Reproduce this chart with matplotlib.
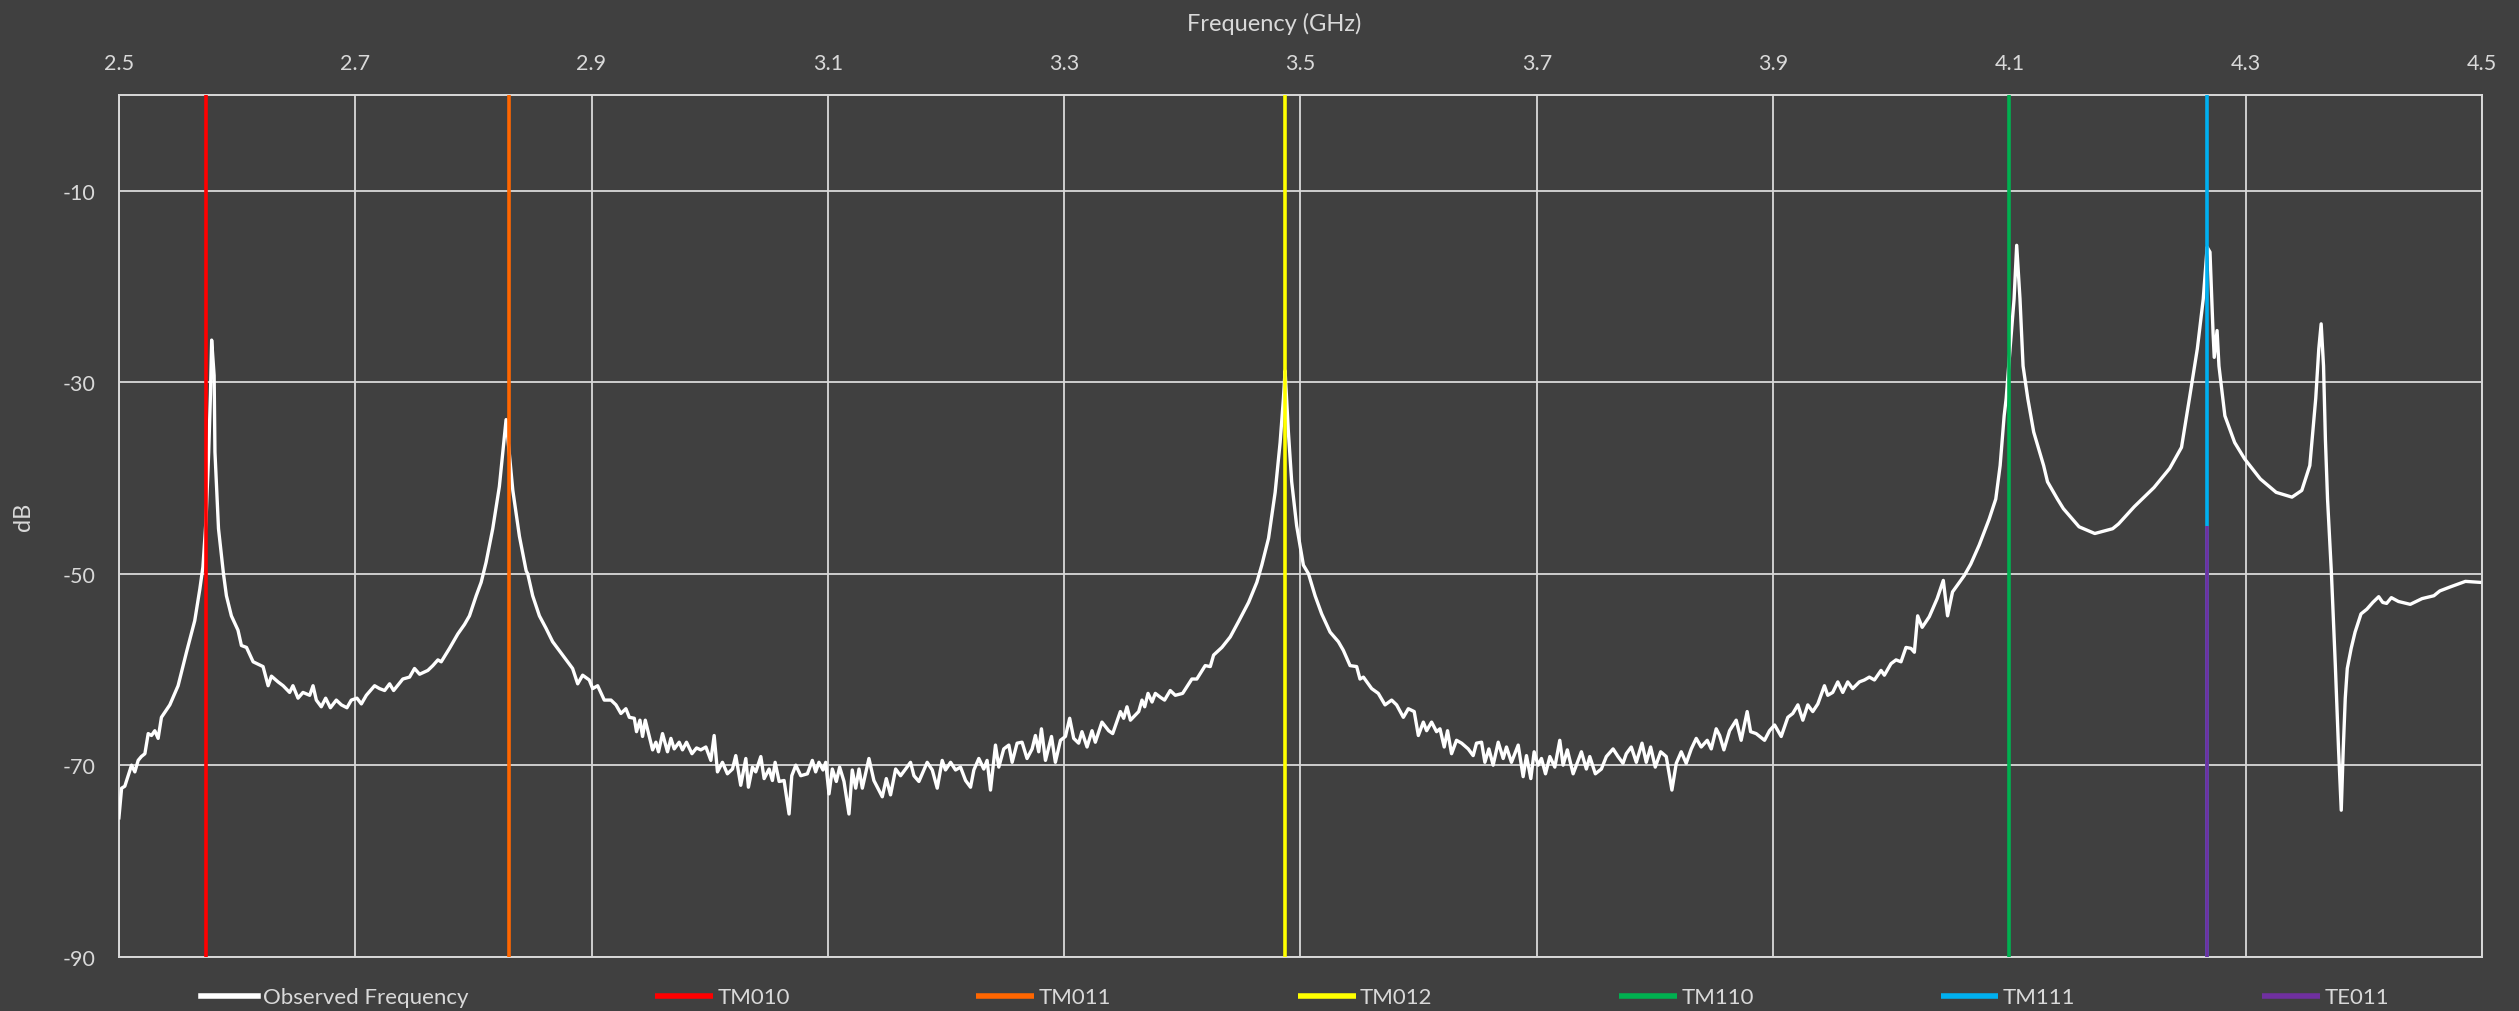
import matplotlib
matplotlib.use("Agg")
import matplotlib.pyplot as plt
import numpy as np

# measured trace (GHz, dB)
freq = [2.500, 2.5023, 2.505, 2.5107, 2.5135, 2.5163, 2.519, 2.522, 2.5248, 2.5276,
        2.5304, 2.5332, 2.536, 2.5431, 2.5501, 2.5572, 2.5642, 2.5685, 2.5711, 2.5737,
        2.576, 2.5775, 2.5785, 2.5806, 2.5813, 2.5843, 2.5885, 2.591, 2.5952, 2.6008,
        2.6037, 2.608, 2.6136, 2.622, 2.6263, 2.6291, 2.6347, 2.639, 2.6445, 2.6473,
        2.6516, 2.6558, 2.6615, 2.6643, 2.6671, 2.6713, 2.675, 2.679, 2.684, 2.6883,
        2.693, 2.6967, 2.7015, 2.7052, 2.7094, 2.7164, 2.7206, 2.7249, 2.7291, 2.7325,
        2.7403, 2.746, 2.7502, 2.7545, 2.7615, 2.7657, 2.77, 2.7728, 2.7798, 2.7868,
        2.7925, 2.7967, 2.8024, 2.8066, 2.8108, 2.8164, 2.822, 2.8277, 2.8334, 2.839,
        2.8447, 2.846, 2.8502, 2.8559, 2.8615, 2.8671, 2.8756, 2.884, 2.8883, 2.8925,
        2.8981, 2.901, 2.9052, 2.9108, 2.9165, 2.9207, 2.9249, 2.9291, 2.932, 2.9362,
        2.9381, 2.941, 2.9432, 2.9455, 2.9517, 2.9545, 2.9567, 2.9601, 2.9643, 2.9672,
        2.97, 2.9742, 2.977, 2.9804, 2.985, 2.9889, 2.9925, 2.9968, 3.001, 3.0038,
        3.0066, 3.0108, 3.015, 3.0193, 3.0221, 3.0263, 3.0306, 3.0328, 3.0362, 3.039,
        3.0433, 3.0461, 3.0503, 3.0531, 3.0554, 3.0588, 3.063, 3.0672, 3.0695, 3.0729,
        3.0771, 3.0827, 3.0869, 3.0897, 3.0925, 3.0959, 3.0982, 3.101, 3.1038, 3.1072,
        3.11, 3.1137, 3.1179, 3.1207, 3.1236, 3.1264, 3.1292, 3.1348, 3.139, 3.1461,
        3.1495, 3.1531, 3.1574, 3.1616, 3.1658, 3.17, 3.1729, 3.1771, 3.1841, 3.1884,
        3.1926, 3.1968, 3.1996, 3.2039, 3.2081, 3.2123, 3.2166, 3.2208, 3.2236, 3.2278,
        3.232, 3.2348, 3.2377, 3.2419, 3.2447, 3.2489, 3.2532, 3.256, 3.2602, 3.2644,
        3.2686, 3.2729, 3.2757, 3.2785, 3.2808, 3.2842, 3.2893, 3.2926, 3.2969, 3.3011,
        3.3047, 3.3081, 3.3123, 3.3151, 3.3194, 3.3236, 3.3264, 3.332, 3.3377, 3.3411,
        3.3476, 3.3504, 3.3532, 3.3561, 3.3631, 3.3659, 3.3682, 3.371, 3.3744, 3.3772,
        3.3814, 3.385, 3.3898, 3.3941, 3.4003, 3.4081, 3.4123, 3.4194, 3.4237, 3.4265,
        3.4335, 3.4406, 3.4476, 3.4561, 3.4631, 3.4673, 3.473, 3.4786, 3.4828, 3.4856,
        3.487, 3.4898, 3.4926, 3.4968, 3.5025, 3.5068, 3.5124, 3.518, 3.5251, 3.5321,
        3.5363, 3.542, 3.5476, 3.5504, 3.5533, 3.5603, 3.5659, 3.5716, 3.5772, 3.5814,
        3.5871, 3.5913, 3.5963, 3.5998, 3.604, 3.6068, 3.611, 3.6152, 3.6181, 3.6217,
        3.6245, 3.6279, 3.6321, 3.6364, 3.642, 3.6462, 3.649, 3.6533, 3.6561, 3.6595,
        3.6631, 3.6674, 3.6716, 3.6744, 3.6786, 3.6843, 3.6885, 3.6913, 3.695, 3.6978,
        3.7012, 3.704, 3.7074, 3.7111, 3.7153, 3.7195, 3.7223, 3.7259, 3.7308, 3.7378,
        3.742, 3.7449, 3.7496, 3.7547, 3.7589, 3.7646, 3.7688, 3.773, 3.7758, 3.78,
        3.7843, 3.7891, 3.7927, 3.7964, 3.8003, 3.8049, 3.8096, 3.8144, 3.8181, 3.8223,
        3.8265, 3.8308, 3.835, 3.8392, 3.8443, 3.8477, 3.8519, 3.8548, 3.8584, 3.8632,
        3.8688, 3.873, 3.8781, 3.881, 3.8857, 3.8928, 3.897, 3.9013, 3.9069, 3.9125,
        3.9167, 3.921, 3.9252, 3.9294, 3.9336, 3.9379, 3.9435, 3.9463, 3.9505, 3.9548,
        3.959, 3.9632, 3.9674, 3.9731, 3.9773, 3.9815, 3.9858, 3.9914, 3.9942, 3.9998,
        4.0041, 4.0083, 4.0125, 4.0167, 4.0196, 4.0224, 4.0262, 4.0322, 4.0389, 4.0441,
        4.0477, 4.0519, 4.0618, 4.0673, 4.0745, 4.0829, 4.0885, 4.0922, 4.0956, 4.0973,
        4.1006, 4.104, 4.1062, 4.109, 4.1116, 4.1156, 4.1206, 4.129, 4.1323, 4.1407,
        4.1457, 4.159, 4.1723, 4.1874, 4.1924, 4.2057, 4.2124, 4.2224, 4.2357, 4.2457,
        4.2524, 4.2591, 4.2641, 4.2674, 4.2698, 4.2724, 4.2734, 4.2758, 4.2774, 4.2824,
        4.2907, 4.2991, 4.3124, 4.3258, 4.3392, 4.3475, 4.3543, 4.3593, 4.3619, 4.3639,
        4.3659, 4.3675, 4.3693, 4.3726, 4.3759, 4.3786, 4.3809, 4.3826, 4.3843, 4.386,
        4.3893, 4.3926, 4.3976, 4.4026, 4.4076, 4.4126, 4.416, 4.4193, 4.4233, 4.4293,
        4.4393, 4.4493, 4.4593, 4.4643, 4.4727, 4.4793, 4.486, 4.498]

db = [-75.5, -72.4, -72.2, -70.0, -70.7, -69.5, -69.1, -68.8, -66.7, -66.9,
      -66.4, -67.2, -65.0, -63.7, -61.7, -58.2, -54.9, -51.6, -49.3, -44.5,
      -37.3, -31.3, -25.6, -29.3, -37.3, -45.3, -50.0, -52.3, -54.4, -55.9,
      -57.5, -57.7, -59.2, -59.7, -61.7, -60.7, -61.3, -61.7, -62.4, -61.7,
      -63.0, -62.4, -62.7, -61.7, -63.2, -63.9, -63.0, -64.0, -63.2, -63.7,
      -64.0, -63.2, -63.0, -63.6, -62.7, -61.7, -62.0, -62.2, -61.5, -62.2,
      -61.0, -60.8, -59.9, -60.5, -60.1, -59.6, -59.0, -59.2, -57.8, -56.3,
      -55.3, -54.4, -52.3, -50.9, -48.8, -45.3, -40.9, -33.9, -41.3, -46.1,
      -49.7, -50.0, -52.3, -54.4, -55.7, -57.1, -58.5, -59.9, -61.5, -60.6,
      -61.1, -62.0, -61.7, -63.2, -63.2, -63.7, -64.6, -64.1, -65.0, -65.1,
      -66.5, -65.3, -67.0, -65.3, -68.4, -67.6, -68.6, -66.7, -68.6, -67.2,
      -68.3, -67.6, -68.4, -67.6, -68.8, -68.2, -68.4, -68.1, -69.5, -66.9,
      -70.7, -69.7, -70.9, -70.4, -69.0, -72.1, -69.3, -72.3, -70.2, -70.7,
      -69.1, -71.4, -70.4, -71.6, -69.7, -71.7, -71.6, -75.1, -71.1, -70.0,
      -71.1, -70.9, -69.5, -70.7, -69.7, -70.5, -69.7, -73.0, -70.4, -71.7,
      -70.2, -71.7, -75.1, -70.5, -72.4, -70.4, -72.4, -69.3, -71.6, -73.3,
      -71.4, -73.1, -70.4, -71.1, -70.4, -69.7, -71.1, -71.7, -69.7, -70.5,
      -72.4, -69.5, -70.5, -69.7, -70.5, -70.2, -71.6, -72.3, -70.5, -69.3,
      -70.4, -69.5, -72.6, -67.9, -70.2, -68.3, -67.9, -69.7, -67.7, -67.6,
      -69.3, -68.3, -66.9, -68.6, -66.2, -69.5, -67.0, -69.7, -67.4, -67.0,
      -65.1, -67.2, -67.7, -66.5, -68.1, -66.4, -67.6, -65.5, -66.4, -66.7,
      -64.4, -65.1, -63.9, -65.3, -64.4, -63.2, -63.9, -62.5, -63.4, -62.5,
      -62.9, -63.2, -62.2, -62.7, -62.5, -61.0, -61.0, -59.6, -59.7, -58.5,
      -57.7, -56.6, -55.0, -53.0, -50.9, -49.1, -46.3, -41.5, -36.3, -31.7,
      -28.8, -35.2, -40.4, -45.0, -49.1, -50.0, -52.3, -54.2, -56.1, -57.1,
      -58.0, -59.6, -59.7, -61.0, -60.8, -62.0, -62.5, -63.7, -63.2, -63.7,
      -65.0, -64.1, -64.4, -66.9, -65.5, -66.4, -65.5, -66.5, -66.2, -68.1,
      -66.4, -68.8, -67.4, -67.7, -68.3, -69.0, -67.7, -67.6, -69.7, -68.3,
      -70.0, -67.6, -69.3, -68.1, -69.7, -67.9, -71.2, -69.0, -71.4, -68.6,
      -70.0, -69.3, -70.9, -69.1, -70.2, -67.4, -70.0, -68.4, -70.9, -68.6,
      -70.4, -69.1, -70.9, -70.4, -69.1, -68.3, -69.1, -69.8, -68.8, -68.1,
      -69.7, -67.7, -69.7, -68.1, -70.2, -68.6, -69.1, -72.6, -69.8, -68.6,
      -69.8, -68.3, -67.2, -68.1, -67.4, -68.3, -66.2, -66.9, -68.4, -66.4,
      -65.3, -67.4, -64.4, -66.5, -66.7, -67.4, -66.4, -65.8, -67.0, -65.0,
      -64.6, -63.7, -65.3, -63.7, -64.4, -63.6, -61.7, -62.7, -62.4, -61.3,
      -62.4, -61.3, -62.0, -61.3, -61.1, -60.8, -61.1, -60.1, -60.6, -59.4,
      -59.0, -59.2, -57.7, -57.8, -58.2, -54.4, -55.6, -54.5, -52.6, -50.7,
      -54.4, -51.9, -50.2, -49.0, -47.0, -44.3, -42.2, -38.7, -33.5, -31.7,
      -26.5, -21.3, -15.7, -21.3, -28.3, -31.7, -35.2, -38.7, -40.4, -42.2,
      -43.2, -45.1, -45.8, -45.3, -44.8, -43.0, -42.2, -41.0, -39.0, -36.8,
      -31.7, -26.5, -21.3, -15.9, -16.4, -24.8, -27.4, -24.6, -28.3, -33.5,
      -36.3, -38.0, -40.1, -41.5, -42.0, -41.3, -38.7, -31.7, -26.5, -23.9,
      -28.3, -36.0, -42.2, -50.0, -59.6, -68.3, -74.7, -68.3, -63.0, -59.9,
      -57.8, -56.1, -54.2, -53.7, -53.0, -52.4, -53.0, -53.1, -52.5, -52.9,
      -53.2, -52.6, -52.3, -51.8, -51.4, -51.1, -50.8, -50.9]

# predicted modes
mode_names = ['TM010', 'TM011', 'TM012', 'TM110', 'TM111', 'TE011']
mode_freqs = [2.574, 2.830, 3.487, 4.100, 4.267, 4.267]
mode_top = [0, 0, 0, 0, 0, -45]
mode_colors = ['#FF0000', '#FF6600', '#FFFF00', '#00B050', '#00B0F0', '#7030A0']

bg = '#404040'
fg = '#d9d9d9'
plt.rcParams['font.family'] = ['Lato', 'DejaVu Sans']
plt.rcParams['axes.unicode_minus'] = False

fig = plt.figure(figsize=(25.19, 10.12), dpi=100, facecolor=bg)
ax = fig.add_axes([0.0472, 0.0537, 0.9381, 0.8514], facecolor=bg)

ax.plot(freq, db, color='white', lw=2.4, label='Observed Frequency', zorder=3)
for name, f, top, c in zip(mode_names, mode_freqs, mode_top, mode_colors):
    ax.plot([f, f], [top, -90], color=c, lw=2.6, label=name, zorder=4,
            solid_capstyle='butt')

ax.set_xlim(2.5, 4.5)
ax.set_ylim(-90, 0)
ax.set_xticks(np.arange(2.5, 4.51, 0.2))
ax.set_xticklabels(['%.1f' % v for v in np.arange(2.5, 4.51, 0.2)])
ax.set_yticks([-90, -70, -50, -30, -10])
ax.xaxis.tick_top()
ax.tick_params(axis='both', length=0, labelsize=15.5, labelcolor=fg)
ax.tick_params(axis='x', pad=16)
ax.tick_params(axis='y', pad=17)
ax.grid(True, color=fg, lw=1.3, zorder=1)
ax.set_axisbelow(True)
for s in ax.spines.values():
    s.set_color(fg)
    s.set_linewidth(1.4)

fig.text(0.506, 0.976, 'Frequency (GHz)', color=fg, fontsize=17, ha='center', va='center')
fig.text(0.0095, 0.489, 'dB', color=fg, fontsize=17, ha='center', va='center', rotation=90)

leg = fig.legend(loc='center', bbox_to_anchor=(0.514, 0.0135), ncol=7, frameon=False,
                 fontsize=16, handlelength=2.6, handletextpad=0.2, columnspacing=8.4,
                 borderaxespad=0)
for t in leg.get_texts():
    t.set_color(fg)
for h in leg.get_lines():
    h.set_linewidth(4)

fig.savefig('out.png', dpi=100, facecolor=bg)
